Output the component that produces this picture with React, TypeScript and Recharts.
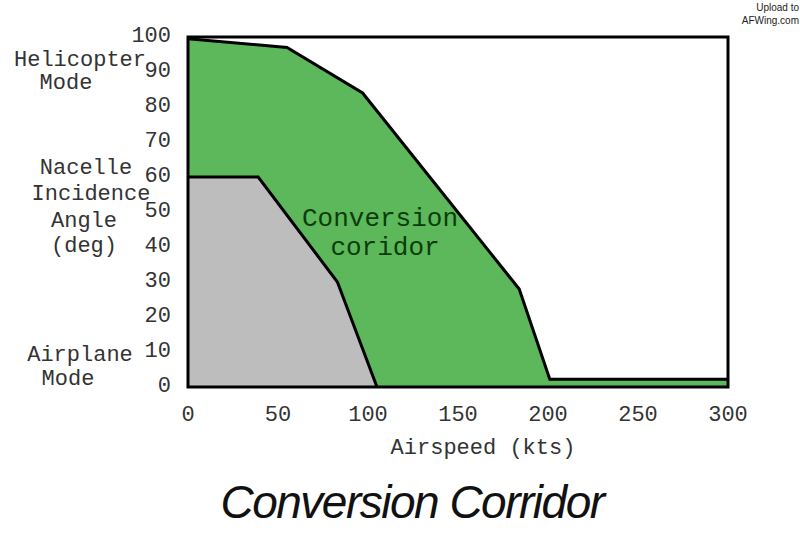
import { Area, ComposedChart, ReferenceArea, XAxis, YAxis } from "recharts";

// corridor outer boundary (airspeed kts, nacelle angle deg)
const corridorSpeed = [0, 55, 97, 184, 201, 300];
const corridorAngle = [99.5, 97, 84, 28, 2.2, 2.2];

// lower limit (grey region)
const limitSpeed = [0, 39, 83, 105];
const limitAngle = [60, 60, 30, 0];

const xTicks = [0, 50, 100, 150, 200, 250, 300];
const yTicks = [0, 10, 20, 30, 40, 50, 60, 70, 80, 90, 100];

const corridorData = corridorSpeed.map((x, i) => ({ x, y: corridorAngle[i] }));
const limitData = limitSpeed.map((x, i) => ({ x, y: limitAngle[i] }));

const mono = "'Courier New', 'Liberation Mono', monospace";
const tickStyle = { fontSize: 22, fill: "#333", fontFamily: mono };

export default function App() {
  return (
    <div style={{ position: "absolute", left: 0, top: 0, width: 800, height: 549, background: "#fff" }}>
      <ComposedChart
        width={800}
        height={549}
        margin={{ top: 37, right: 72, left: 128, bottom: 132 }}
      >
        <XAxis
          type="number"
          dataKey="x"
          domain={[0, 300]}
          ticks={xTicks}
          tick={tickStyle}
          tickLine={false}
          axisLine={false}
          tickMargin={12}
          height={30}
          allowDataOverflow
        />
        <YAxis
          type="number"
          dataKey="y"
          domain={[0, 100]}
          ticks={yTicks}
          tick={{ ...tickStyle, dy: -3 }}
          tickLine={false}
          axisLine={false}
          tickMargin={11}
          width={60}
          allowDataOverflow
        />
        <Area
          data={corridorData}
          dataKey="y"
          type="linear"
          fill="#5cb85a"
          fillOpacity={1}
          stroke="#000"
          strokeWidth={3}
          isAnimationActive={false}
        />
        <Area
          data={limitData}
          dataKey="y"
          type="linear"
          fill="#bdbdbd"
          fillOpacity={1}
          stroke="#000"
          strokeWidth={3}
          isAnimationActive={false}
        />
        <ReferenceArea
          x1={0}
          x2={300}
          y1={0}
          y2={100}
          fill="none"
          stroke="#000"
          strokeWidth={3}
          ifOverflow="visible"
        />
      </ComposedChart>
      <svg
        width={800}
        height={549}
        style={{ position: "absolute", left: 0, top: 0, pointerEvents: "none" }}
      >
        <g fontFamily={mono} fontSize={22} fill="#333" textAnchor="middle" dominantBaseline="central">
          <text x={80} y={60}>Helicopter</text>
          <text x={66} y={83}>Mode</text>
          <text x={86} y={168}>Nacelle</text>
          <text x={91} y={194}>Incidence</text>
          <text x={84} y={221}>Angle</text>
          <text x={84} y={246}>(deg)</text>
          <text x={80} y={355}>Airplane</text>
          <text x={68} y={379}>Mode</text>
          <text x={483} y={448}>Airspeed (kts)</text>
        </g>
        <g fontFamily={mono} fontSize={26} fill="#0b3d0b" textAnchor="middle" dominantBaseline="central">
          <text x={380} y={219}>Conversion</text>
          <text x={385} y={248}>coridor</text>
        </g>
        <text
          x={412}
          y={518}
          textAnchor="middle"
          fontFamily="'Liberation Sans', Arial, sans-serif"
          fontStyle="italic"
          fontWeight={300}
          fontSize={46}
          letterSpacing={-1.5}
          fill="#111"
        >
          Conversion Corridor
        </text>
        <g fontFamily="'Liberation Sans', Arial, sans-serif" fontSize={10} fill="#222" textAnchor="end">
          <text x={799} y={11}>Upload to</text>
          <text x={799} y={24}>AFWing.com</text>
        </g>
      </svg>
    </div>
  );
}
